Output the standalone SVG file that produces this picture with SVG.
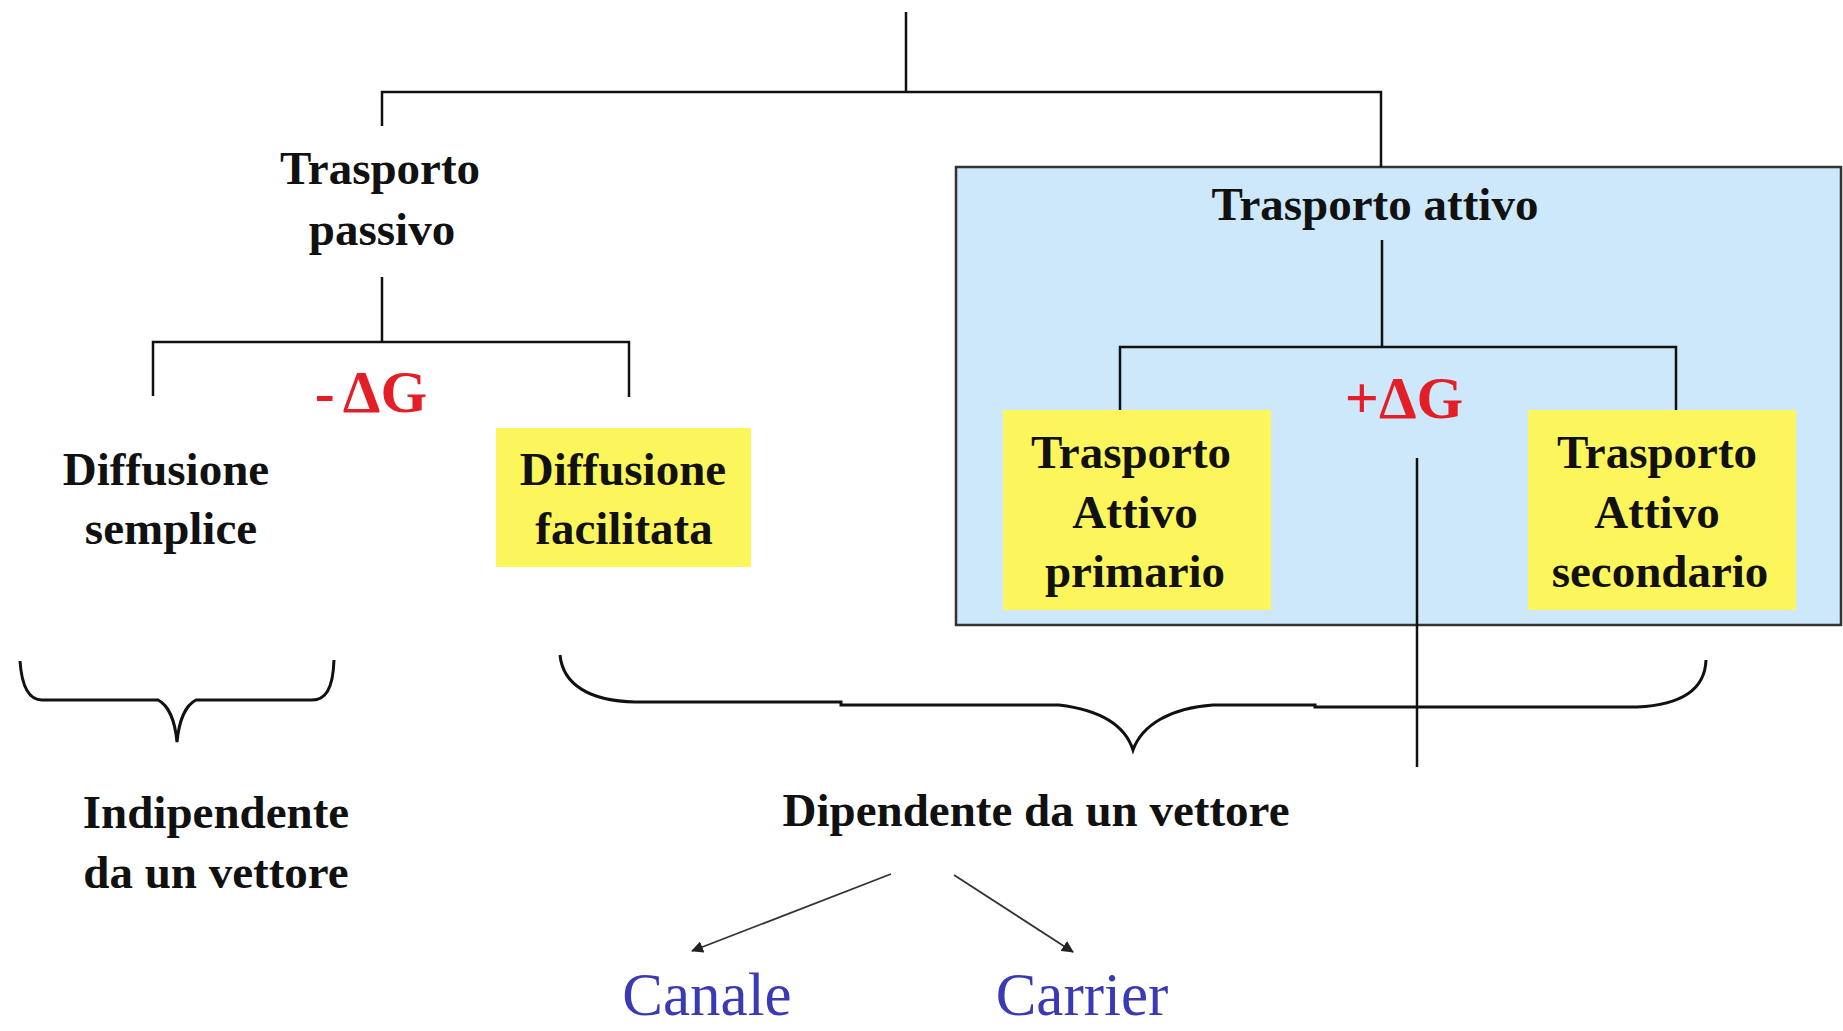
<svg xmlns="http://www.w3.org/2000/svg" width="1843" height="1031" viewBox="0 0 1843 1031">
<style>
.t{font-family:"Liberation Serif","Times New Roman",serif;font-weight:bold;font-size:47px;fill:#111;text-anchor:middle}
.dg{font-family:"Liberation Serif","Times New Roman",serif;font-weight:bold;font-size:60px;fill:#e41e26;text-anchor:middle}
.bl{font-family:"Liberation Serif","Times New Roman",serif;font-size:61px;fill:#3a3ab4;text-anchor:middle}
.ln{stroke:#111;stroke-width:2.5;fill:none}
.br{stroke:#111;stroke-width:3;fill:none}
.ar{stroke:#333;stroke-width:1.8;fill:none}
.yb{fill:#fcf65c}
</style>
<defs>
<marker id="ah" markerWidth="12" markerHeight="12" refX="11" refY="6" orient="auto" markerUnits="userSpaceOnUse" viewBox="0 0 12 12">
<path d="M0,0 L12,6 L0,12 z" fill="#222"/>
</marker>
</defs>
<rect width="1843" height="1031" fill="#fff"/>
<g id="attivo-box">
<rect x="956" y="167" width="885" height="458" fill="#cce8fa" stroke="#333" stroke-width="2.5"/>
</g>
<g id="connectors">
<path class="ln" d="M906,12 V92 M382,126 V92 H1381 V167"/>
<path class="ln" d="M382,277 V342 M153,396 V342 H629 V397"/>
<path class="ln" d="M1382,240 V347 M1120,411 V347 H1676 V411"/>
<path class="ln" d="M1417,458 V767"/>
<path class="br" d="M20,661 C22,690 30,700 42,700 L158,700 C168,705 175,720 177,742 C179,720 186,705 196,700 L312,700 C325,700 333,690 334,660"/>
<path class="br" d="M560,655 C563,685 590,701 635,702 L841,702 L841,705 L1059,705 C1100,710 1125,725 1133,750 C1142,725 1170,708 1213,705 L1315,705 L1315,707 L1637,707 C1680,705 1705,690 1706,660"/>
<path class="ar" d="M891,874 L692,951" marker-end="url(#ah)"/>
<path class="ar" d="M954,875 L1073,952" marker-end="url(#ah)"/>
</g>
<g id="trasporto-passivo">
<text class="t" x="380" y="184">Trasporto</text>
<text class="t" x="382" y="245">passivo</text>
</g>
<g id="dg-neg"><text class="dg" x="371" y="412">-<tspan dx="8">ΔG</tspan></text></g>
<g id="diffusione-semplice">
<text class="t" x="166" y="485">Diffusione</text>
<text class="t" x="171" y="544">semplice</text>
</g>
<g id="diffusione-facilitata">
<rect class="yb" x="496" y="428" width="255" height="139"/>
<text class="t" x="623" y="485">Diffusione</text>
<text class="t" x="624" y="544">facilitata</text>
</g>
<g id="trasporto-attivo"><text class="t" x="1375" y="220">Trasporto attivo</text></g>
<g id="dg-pos"><text class="dg" x="1404" y="418">+ΔG</text></g>
<g id="attivo-primario">
<rect class="yb" x="1003" y="410" width="268" height="200"/>
<text class="t" x="1131" y="468">Trasporto</text>
<text class="t" x="1135" y="528">Attivo</text>
<text class="t" x="1135" y="587">primario</text>
</g>
<g id="attivo-secondario">
<rect class="yb" x="1528" y="410" width="268" height="200"/>
<text class="t" x="1657" y="468">Trasporto</text>
<text class="t" x="1657" y="528">Attivo</text>
<text class="t" x="1660" y="587">secondario</text>
</g>
<g id="indipendente">
<text class="t" x="216" y="828">Indipendente</text>
<text class="t" x="216" y="888">da un vettore</text>
</g>
<g id="dipendente"><text class="t" x="1036" y="826">Dipendente da un vettore</text></g>
<g id="canale"><text class="bl" x="707" y="1015">Canale</text></g>
<g id="carrier"><text class="bl" x="1082" y="1015">Carrier</text></g>
</svg>
